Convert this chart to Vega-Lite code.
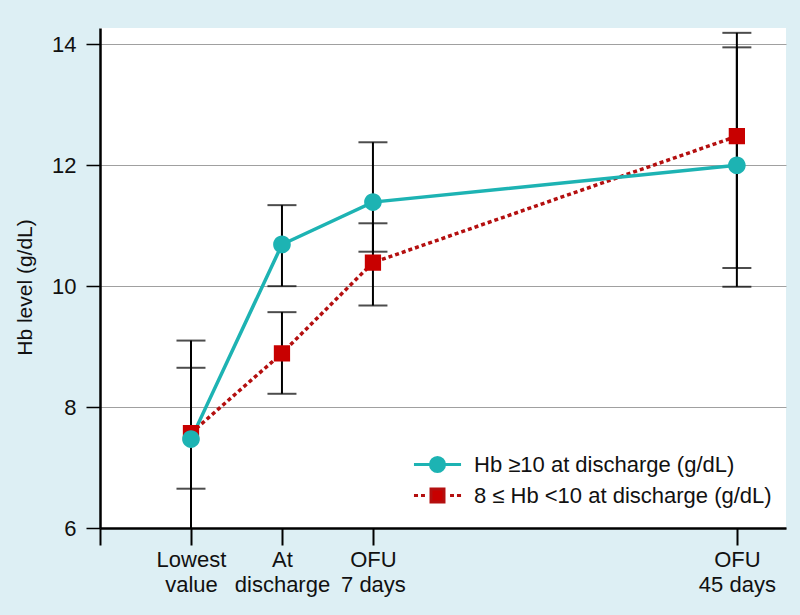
{
  "$schema": "https://vega.github.io/schema/vega-lite/v6.json",
  "width": 686,
  "height": 500,
  "autosize": {"type": "none"},
  "padding": {"left": 100, "top": 28, "right": 14, "bottom": 87},
  "background": "#ddeff4",
  "config": {
    "view": {"fill": "white", "stroke": null},
    "font": "Liberation Sans"
  },
  "data": {
    "values": [
      {"series": "Hb ≥10 at discharge (g/dL)", "x": 1, "y": 7.47, "lo": 5.85, "hi": 9.10},
      {"series": "Hb ≥10 at discharge (g/dL)", "x": 2, "y": 10.69, "lo": 10.0, "hi": 11.34},
      {"series": "Hb ≥10 at discharge (g/dL)", "x": 3, "y": 11.39, "lo": 10.57, "hi": 12.38},
      {"series": "Hb ≥10 at discharge (g/dL)", "x": 7, "y": 12.0, "lo": 9.99, "hi": 13.95},
      {"series": "8 ≤ Hb <10 at discharge (g/dL)", "x": 1, "y": 7.57, "lo": 6.65, "hi": 8.65},
      {"series": "8 ≤ Hb <10 at discharge (g/dL)", "x": 2, "y": 8.89, "lo": 8.22, "hi": 9.57},
      {"series": "8 ≤ Hb <10 at discharge (g/dL)", "x": 3, "y": 10.39, "lo": 9.68, "hi": 11.04},
      {"series": "8 ≤ Hb <10 at discharge (g/dL)", "x": 7, "y": 12.48, "lo": 10.30, "hi": 14.19}
    ]
  },
  "encoding": {
    "x": {
      "field": "x",
      "type": "quantitative",
      "scale": {"domain": [0, 7.54], "nice": false, "zero": false},
      "axis": {
        "values": [0, 1, 2, 3, 7],
        "title": null,
        "grid": false,
        "domainColor": "black",
        "domainWidth": 2.5,
        "tickColor": "black",
        "tickWidth": 2,
        "tickSize": 17,
        "labelFontSize": 22,
        "labelColor": "#111",
        "labelPadding": 4,
        "labelLineHeight": 25,
        "labelFlush": false,
        "labelOverlap": false,
        "labelExpr": "datum.value == 1 ? ['Lowest', 'value'] : datum.value == 2 ? ['At', 'discharge'] : datum.value == 3 ? ['OFU', '7 days'] : datum.value == 7 ? ['OFU', '45 days'] : ''"
      }
    },
    "y": {
      "field": "y",
      "type": "quantitative",
      "scale": {"domain": [6, 14.27], "nice": false, "zero": false},
      "axis": {
        "values": [6, 8, 10, 12, 14],
        "title": "Hb level (g/dL)",
        "titleFontSize": 21,
        "titleFontWeight": "normal",
        "titleColor": "#111",
        "titleX": -75,
        "titleY": 259,
        "titleBaseline": "middle",
        "grid": true,
        "gridColor": "#a0a0a0",
        "gridWidth": 1,
        "domainColor": "black",
        "domainWidth": 2.5,
        "tickColor": "black",
        "tickWidth": 1.5,
        "tickSize": 14,
        "labelFontSize": 22,
        "labelColor": "#111",
        "labelPadding": 10
      }
    }
  },
  "layer": [
    {
      "mark": {"type": "rule", "color": "black", "strokeWidth": 2, "clip": true},
      "encoding": {"y": {"field": "lo", "type": "quantitative"}, "y2": {"field": "hi"}}
    },
    {
      "mark": {"type": "tick", "orient": "horizontal", "color": "black", "size": 29, "thickness": 2, "clip": true},
      "encoding": {"y": {"field": "lo", "type": "quantitative"}}
    },
    {
      "mark": {"type": "tick", "orient": "horizontal", "color": "black", "size": 29, "thickness": 2, "clip": true},
      "encoding": {"y": {"field": "hi", "type": "quantitative"}}
    },
    {
      "transform": [{"filter": "datum.series === '8 ≤ Hb <10 at discharge (g/dL)'"}],
      "mark": {"type": "line", "strokeWidth": 3.5, "color": "#b40f0f", "strokeDash": [4, 3]}
    },
    {
      "transform": [{"filter": "datum.series === 'Hb ≥10 at discharge (g/dL)'"}],
      "mark": {"type": "line", "strokeWidth": 3.5, "color": "#1db3b3"}
    },
    {
      "mark": {"type": "point", "filled": true, "opacity": 1, "size": 760},
      "encoding": {
        "order": {"field": "series"},
        "color": {
          "field": "series",
          "type": "nominal",
          "scale": {"domain": ["Hb ≥10 at discharge (g/dL)", "8 ≤ Hb <10 at discharge (g/dL)"], "range": ["#1db3b3", "#c80000"]},
          "legend": {
            "orient": "none",
            "legendX": 325,
            "legendY": 424,
            "title": null,
            "padding": 0,
            "labelFontSize": 22,
            "labelColor": "#111",
            "labelLimit": 0,
            "labelOffset": 24,
            "rowPadding": 5,
            "symbolSize": 484,
            "symbolStrokeWidth": 3,
            "symbolOpacity": 1,
            "encode": {
              "symbols": {
                "update": {
                  "stroke": {"signal": "datum.value === 'Hb ≥10 at discharge (g/dL)' ? '#1db3b3' : '#b40f0f'"},
                  "strokeWidth": {"value": 3}
                }
              }
            }
          }
        },
        "shape": {
          "field": "series",
          "type": "nominal",
          "scale": {
            "domain": ["Hb ≥10 at discharge (g/dL)", "8 ≤ Hb <10 at discharge (g/dL)"],
            "range": [
              "M-2.14,0H2.14M0.64,0A0.64,0.64,0,1,1,-0.64,0A0.64,0.64,0,1,1,0.64,0Z",
              "M-2.14,0H-1.77M-1.5,0H-1.14M1.14,0H1.5M1.77,0H2.14M-0.59,-0.59H0.59V0.59H-0.59Z"
            ]
          }
        }
      }
    }
  ]
}
